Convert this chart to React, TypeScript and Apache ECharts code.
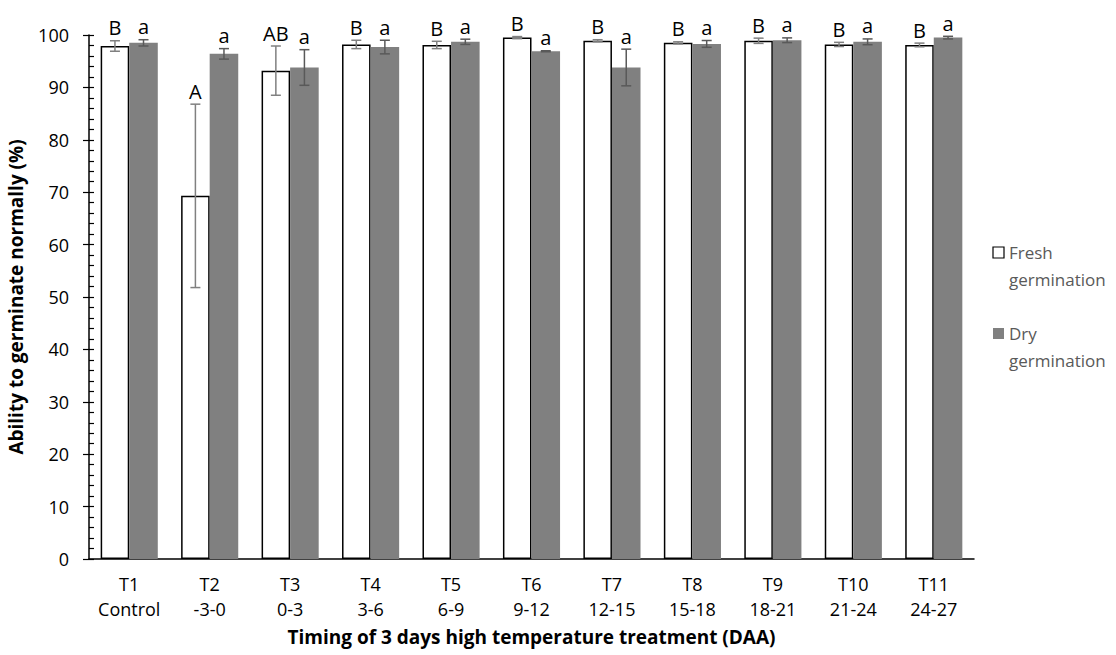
import React, { useEffect, useRef } from "react";
import * as echarts from "echarts";

const categories = ["T1\nControl", "T2\n-3-0", "T3\n0-3", "T4\n3-6", "T5\n6-9", "T6\n9-12", "T7\n12-15", "T8\n15-18", "T9\n18-21", "T10\n21-24", "T11\n24-27"];
const freshValues = [97.9, 69.3, 93.2, 98.2, 98.1, 99.5, 98.9, 98.5, 98.9, 98.2, 98.1];
const freshErrors = [1.0, 17.5, 4.7, 0.8, 0.7, 0.2, 0.2, 0.2, 0.5, 0.4, 0.35];
const freshLetters = ["B", "A", "AB", "B", "B", "B", "B", "B", "B", "B", "B"];
const dryValues = [98.5, 96.4, 93.8, 97.7, 98.7, 96.9, 93.8, 98.3, 99.0, 98.7, 99.5];
const dryErrors = [0.6, 1.0, 3.4, 1.3, 0.5, 0.1, 3.5, 0.65, 0.45, 0.55, 0.25];
const dryLetters = ["a", "a", "a", "a", "a", "a", "a", "a", "a", "a", "a"];
const yTicks = { min: 0, max: 100, interval: 10 };

const FONT = "'Open Sans', sans-serif";
const CAT_GAP = 0.29;

function makeErrorSeries(name: string, values: number[], errors: number[], letters: string[], side: number, color: string) {
  return {
    type: "custom",
    name: name + " error",
    z: 5,
    data: values.map((v, i) => [i, v, errors[i]]),
    renderItem: (params: any, api: any) => {
      const idx = api.value(0);
      const v = api.value(1);
      const e = api.value(2);
      const catW = api.size([1, 0])[0];
      const barW = (catW * (1 - CAT_GAP)) / 2;
      const x = api.coord([idx, v])[0] + (side * barW) / 2;
      const top = api.coord([idx, v + e])[1];
      const bot = api.coord([idx, v - e])[1];
      const cap = 5;
      const st = { stroke: color, lineWidth: 1.5 };
      return {
        type: "group",
        children: [
          { type: "line", shape: { x1: x, y1: top, x2: x, y2: bot }, style: st },
          { type: "line", shape: { x1: x - cap, y1: top, x2: x + cap, y2: top }, style: st },
          { type: "line", shape: { x1: x - cap, y1: bot, x2: x + cap, y2: bot }, style: st },
          {
            type: "text",
            style: {
              x: x,
              y: top - 3,
              text: letters[params.dataIndex],
              fill: "#000",
              font: `20px ${FONT}`,
              textAlign: "center",
              textVerticalAlign: "bottom",
            },
          },
        ],
      };
    },
  };
}

export default function App() {
  const ref = useRef<HTMLDivElement>(null);
  useEffect(() => {
    if (!ref.current) return;
    const chart = echarts.init(ref.current, undefined, { renderer: "svg" });
    const legendText = { fill: "#595959", font: `17px ${FONT}` };
    chart.setOption({
      animation: false,
      backgroundColor: "#fff",
      grid: { left: 89, right: 142, top: 35, bottom: 96, containLabel: false, outerBoundsMode: "none" },
      xAxis: {
        type: "category",
        data: categories,
        axisLine: { lineStyle: { color: "#000", width: 1.5 } },
        axisTick: { show: false },
        axisLabel: { color: "#000", fontSize: 18, fontFamily: FONT, lineHeight: 25, margin: 12, interval: 0, hideOverlap: false },
        name: "Timing of 3 days high temperature treatment (DAA)",
        nameLocation: "middle",
        nameGap: 68,
        nameTextStyle: { color: "#000", fontSize: 19, fontWeight: "bold", fontFamily: FONT },
      },
      yAxis: [
        {
          type: "value",
          min: yTicks.min,
          max: yTicks.max,
          interval: yTicks.interval,
          axisLine: { show: true, lineStyle: { color: "#000", width: 1.5 } },
          axisTick: { show: true, inside: true, length: 5, lineStyle: { color: "#000", width: 1.2 } },
          minorTick: { show: true, splitNumber: 5, length: 5, lineStyle: { color: "#000", width: 1.2 } },
          splitLine: { show: false },
          axisLabel: { color: "#000", fontSize: 18, fontFamily: FONT, margin: 20 },
          name: "Ability to germinate normally (%)",
          nameLocation: "middle",
          nameGap: 64,
          nameTextStyle: { color: "#000", fontSize: 19, fontWeight: "bold", fontFamily: FONT },
        },
        {
          type: "value",
          position: "left",
          min: yTicks.min,
          max: yTicks.max,
          interval: yTicks.interval,
          axisLine: { show: false },
          axisTick: { show: true, inside: false, length: 6, lineStyle: { color: "#000", width: 1.2 } },
          splitLine: { show: false },
          axisLabel: { show: false },
        },
      ],
      series: [
        {
          type: "bar",
          name: "Fresh germination",
          data: freshValues,
          barGap: "0%",
          barCategoryGap: CAT_GAP * 100 + "%",
          itemStyle: { color: "#fff", borderColor: "#000", borderWidth: 1.5 },
        },
        {
          type: "bar",
          name: "Dry germination",
          data: dryValues,
          barGap: "0%",
          barCategoryGap: CAT_GAP * 100 + "%",
          itemStyle: { color: "#808080" },
        },
        makeErrorSeries("Fresh germination", freshValues, freshErrors, freshLetters, -1, "#808080"),
        makeErrorSeries("Dry germination", dryValues, dryErrors, dryLetters, 1, "#595959"),
      ],
      graphic: [
        { type: "rect", shape: { x: 993, y: 247, width: 11, height: 11 }, style: { fill: "#fff", stroke: "#000", lineWidth: 1.2 } },
        { type: "text", x: 1009, y: 252, style: { ...legendText, text: "Fresh", textVerticalAlign: "middle" } },
        { type: "text", x: 1009, y: 279, style: { ...legendText, text: "germination", textVerticalAlign: "middle" } },
        { type: "rect", shape: { x: 993, y: 328, width: 11, height: 11 }, style: { fill: "#808080" } },
        { type: "text", x: 1009, y: 333, style: { ...legendText, text: "Dry", textVerticalAlign: "middle" } },
        { type: "text", x: 1009, y: 360, style: { ...legendText, text: "germination", textVerticalAlign: "middle" } },
      ],
    });
    return () => chart.dispose();
  }, []);
  return <div ref={ref} style={{ width: 1116, height: 655, position: "absolute", left: 0, top: 0 }} />;
}
